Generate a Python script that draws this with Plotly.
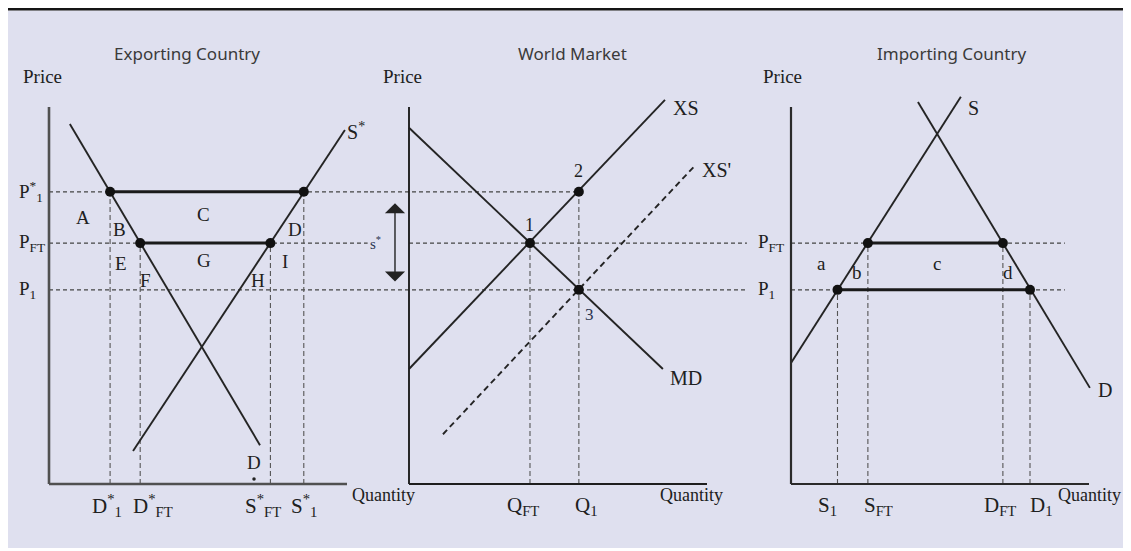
import plotly.graph_objects as go

# ---------------- data (price units shared by all panels) ----------------
price_levels = ["P*1", "PFT", "P1"]
price_values = [7.75, 6.39, 5.15]          # P*_1, P_FT, P_1
P_STAR1, P_FT, P_1 = price_values
AXIS_MAX = 10.0

# Exporting country
exp_demand_q = [0.70, 7.08]
exp_demand_p = [9.55, 1.03]
exp_supply_q = [2.82, 9.93]
exp_supply_p = [0.875, 9.39]
exp_q_names = ["D*1", "D*FT", "S*FT", "S*1"]
exp_q_values = [2.05, 3.06, 7.43, 8.55]

# World market
wm_md_q = [0.0, 8.52]
wm_md_p = [9.45, 3.05]
wm_xs_q = [0.0, 8.59]
wm_xs_p = [3.05, 10.19]
wm_xs2_q = [1.14, 9.60]
wm_xs2_p = [1.32, 8.45]
wm_q_names = ["QFT", "Q1"]
wm_q_values = [4.06, 5.70]

# Importing country
imp_supply_q = [0.0, 5.70]
imp_supply_p = [3.21, 10.27]
imp_demand_q = [4.26, 10.03]
imp_demand_p = [10.13, 2.55]
imp_q_names = ["S1", "SFT", "DFT", "D1"]
imp_q_values = [1.56, 2.58, 7.11, 8.02]

# ---------------- layout helpers ----------------
OFF = 8                 # page body margin of the browser
W, H = 1131 - OFF, 551 - OFF
PX_X = 29.8             # pixels per quantity unit
PX_Y = 37.7             # pixels per price unit
Y0_PX = 484 - OFF       # figure pixel row of price 0
# (domain left, domain right, axis origin) in page pixels
panel_px = [(OFF, 370, 49), (370, 750, 409), (750, 1131, 791)]


def xrange_for(p):
    l, r, o = p
    return [(l - o) / PX_X, (r - o) / PX_X]


y_range = [(Y0_PX - H) / PX_Y, Y0_PX / PX_Y]

SERIF = "Liberation Serif"
SANS = "Noto Sans"
INK = "#202020"
CURVE = "#242424"
DASH_H = "#444444"
DASH_V = "#555555"

fig = go.Figure()
ranges = [xrange_for(p) for p in panel_px]


def line(ax, xs, ys, color=CURVE, width=1.9, dash="solid"):
    fig.add_trace(go.Scatter(x=xs, y=ys, xaxis=ax, yaxis="y", mode="lines",
                             line=dict(color=color, width=width, dash=dash),
                             hoverinfo="skip", showlegend=False))


def dots(ax, xs, ys):
    fig.add_trace(go.Scatter(x=xs, y=ys, xaxis=ax, yaxis="y", mode="markers",
                             marker=dict(color="#111111", size=10),
                             hoverinfo="skip", showlegend=False))


def text(ax, x, y, t, size=18, font=SERIF, color=INK, xanchor="center"):
    fig.add_annotation(x=x, y=y, xref=ax, yref="y", text=t, showarrow=False,
                       font=dict(family=font, size=size, color=color),
                       xanchor=xanchor, yanchor="middle")


def hdash(ax, x0, x1, p):
    line(ax, [x0, x1], [p, p], color=DASH_H, width=1.2, dash="4px,3px")


def vdash(ax, q, p):
    line(ax, [q, q], [0, p], color=DASH_V, width=1.1, dash="5px,3px")


def axes(ax, x_end, color="#3a3a3a", width=2.2):
    line(ax, [0, 0], [0, AXIS_MAX], color=color, width=width)
    line(ax, [0, x_end], [0, 0], color=color, width=width)


TITLE_Y = (484 - 53) / PX_Y
PRICE_Y = (484 - 76) / PX_Y
XLAB_Y = -0.58
QTY_Y = -0.30

# ---------------- Exporting country ----------------
ax = "x"
r = ranges[0]
hdash(ax, 0, r[1], P_STAR1)
hdash(ax, 0, r[1] - 0.08, P_FT)
hdash(ax, 0, r[1], P_1)
d1, dft, sft, s1 = exp_q_values
vdash(ax, d1, P_STAR1)
vdash(ax, dft, P_FT)
vdash(ax, sft, P_FT)
vdash(ax, s1, P_STAR1)
line(ax, exp_demand_q, exp_demand_p)
line(ax, exp_supply_q, exp_supply_p)
line(ax, [d1, s1], [P_STAR1, P_STAR1], color="#1a1a1a", width=3)
line(ax, [dft, sft], [P_FT, P_FT], color="#1a1a1a", width=3)
axes(ax, 10.0, color="#505050", width=2.6)
dots(ax, [d1, s1, dft, sft], [P_STAR1, P_STAR1, P_FT, P_FT])
fig.add_trace(go.Scatter(x=[6.88], y=[0.13], xaxis=ax, yaxis="y", mode="markers",
                         marker=dict(color="#222", size=3.5), hoverinfo="skip",
                         showlegend=False))

text(ax, 4.63, TITLE_Y, "Exporting Country", size=17, font=SANS, color="#3a3a3a")
text(ax, -0.23, PRICE_Y, "Price", size=19)
text(ax, -1.06, P_STAR1, "P<sup>*</sup><sub>1</sub>", size=19, xanchor="left")
text(ax, -1.06, P_FT, "P<sub>FT</sub>", size=19, xanchor="left")
text(ax, -1.06, P_1, "P<sub>1</sub>", size=19, xanchor="left")
text(ax, 10.30, 9.36, "S<sup>*</sup>", size=20)
for t, x, y in [("A", 1.14, 7.08), ("C", 5.20, 7.14), ("B", 2.35, 6.74), ("D", 8.26, 6.74),
                ("E", 2.42, 5.86), ("G", 5.20, 5.92), ("I", 7.92, 5.89), ("F", 3.25, 5.41),
                ("H", 7.01, 5.41), ("D", 6.88, 0.58)]:
    text(ax, x, y, t, size=19)
for t, x in zip(["D<sup>*</sup><sub>1</sub>", "D<sup>*</sup><sub>FT</sub>",
                 "S<sup>*</sup><sub>FT</sub>", "S<sup>*</sup><sub>1</sub>"],
                [1.95, 3.50, 7.18, 8.56]):
    text(ax, x, XLAB_Y, t, size=21)
text(ax, 10.10, QTY_Y, "Quantity", size=18, xanchor="left")

# ---------------- World market ----------------
ax = "x2"
r = ranges[1]
qft, q1 = wm_q_values
hdash(ax, r[0], q1, P_STAR1)
hdash(ax, 0, 11.34, P_FT)
hdash(ax, r[0], 11.34, P_1)
vdash(ax, qft, P_FT)
vdash(ax, q1, P_STAR1)
line(ax, wm_md_q, wm_md_p)
line(ax, wm_xs_q, wm_xs_p)
line(ax, wm_xs2_q, wm_xs2_p, width=1.9, dash="6px,4px")
axes(ax, 10.0, color="#1e1e1e", width=1.9)
dots(ax, [qft, q1, q1], [P_FT, P_STAR1, P_1])
fig.add_annotation(x=-0.47, y=P_STAR1 - 0.30, ax=-0.47, ay=P_1 + 0.18,
                   xref=ax, yref="y", axref=ax, ayref="y", text="",
                   showarrow=True, arrowhead=1, arrowside="end+start",
                   arrowsize=2.4, arrowwidth=1.4, arrowcolor="#222")
text(ax, -1.12, P_FT, "s<sup>*</sup>", size=15, color="#2a3550")
text(ax, 5.50, TITLE_Y, "World Market", size=17, font=SANS, color="#3a3a3a")
text(ax, -0.23, PRICE_Y, "Price", size=19)
text(ax, 9.30, 9.97, "XS", size=20)
text(ax, 10.32, 8.33, "XS'", size=20)
text(ax, 9.30, 2.81, "MD", size=20)
text(ax, qft, P_FT + 0.48, "1", size=18)
text(ax, q1, P_STAR1 + 0.55, "2", size=18)
text(ax, q1 + 0.37, P_1 - 0.66, "3", size=17, color="#2a3550")
text(ax, 3.83, XLAB_Y, "Q<sub>FT</sub>", size=21)
text(ax, 5.94, XLAB_Y, "Q<sub>1</sub>", size=21)
text(ax, 9.48, QTY_Y, "Quantity", size=18)

# ---------------- Importing country ----------------
ax = "x3"
s1i, sfti, dfti, d1i = imp_q_values
hdash(ax, 0, 9.19, P_FT)
hdash(ax, 0, 9.19, P_1)
vdash(ax, s1i, P_1)
vdash(ax, sfti, P_FT)
vdash(ax, dfti, P_FT)
vdash(ax, d1i, P_1)
line(ax, imp_supply_q, imp_supply_p)
line(ax, imp_demand_q, imp_demand_p)
line(ax, [sfti, dfti], [P_FT, P_FT], color="#1a1a1a", width=3)
line(ax, [s1i, d1i], [P_1, P_1], color="#1a1a1a", width=3)
axes(ax, 10.0, color="#2a2a2a", width=2.2)
dots(ax, [sfti, dfti, s1i, d1i], [P_FT, P_FT, P_1, P_1])
text(ax, 5.40, TITLE_Y, "Importing Country", size=17, font=SANS, color="#3a3a3a")
text(ax, -0.27, PRICE_Y, "Price", size=19)
text(ax, -1.16, P_FT, "P<sub>FT</sub>", size=19, xanchor="left")
text(ax, -1.16, P_1, "P<sub>1</sub>", size=19, xanchor="left")
text(ax, 6.11, 9.97, "S", size=20)
text(ax, 10.54, 2.49, "D", size=20)
for t, x, y in [("a", 1.04, 5.86), ("b", 2.21, 5.60), ("c", 4.90, 5.86), ("d", 7.28, 5.60)]:
    text(ax, x, y, t, size=19)
for t, x in zip(["S<sub>1</sub>", "S<sub>FT</sub>", "D<sub>FT</sub>", "D<sub>1</sub>"],
                [1.21, 2.95, 7.01, 8.42]):
    text(ax, x, XLAB_Y, t, size=21)
text(ax, 10.03, QTY_Y, "Quantity", size=18)

# ---------------- axes & background ----------------
layout_axes = {}
for i, (p, rg) in enumerate(zip(panel_px, ranges)):
    name = "xaxis" if i == 0 else f"xaxis{i + 1}"
    layout_axes[name] = dict(domain=[(p[0] - OFF) / W, min(1, (p[1] - OFF) / W)],
                             range=rg, visible=False, anchor="y", fixedrange=True)

fig.update_layout(
    width=W, height=H,
    margin=dict(l=0, r=0, t=0, b=0),
    paper_bgcolor="white",
    plot_bgcolor="rgba(0,0,0,0)",
    showlegend=False,
    yaxis=dict(domain=[0, 1], range=y_range, visible=False, fixedrange=True),
    shapes=[
        dict(type="rect", xref="paper", yref="paper", x0=0, x1=(1127 - OFF) / W,
             y0=1 - (548 - OFF) / H, y1=1 - 2.5 / H, fillcolor="#dfe0ef",
             line=dict(width=0), layer="below"),
        dict(type="line", xref="paper", yref="paper", x0=0, x1=(1127 - OFF) / W,
             y0=1 - 1.3 / H, y1=1 - 1.3 / H, line=dict(color="#151515", width=2.5)),
    ],
    **layout_axes,
)

fig.write_html("out.html")
